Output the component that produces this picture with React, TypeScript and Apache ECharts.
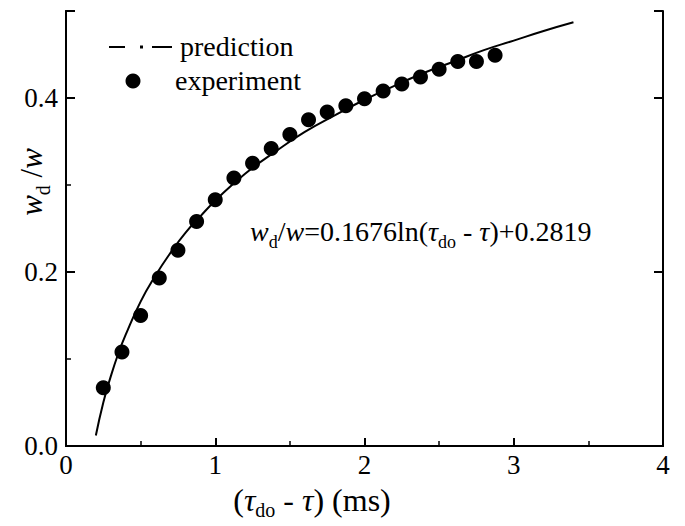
import React, { useEffect, useRef } from "react";
import * as echarts from "echarts";

const expX = [0.25, 0.375, 0.5, 0.625, 0.75, 0.875, 1.0, 1.125, 1.25, 1.375, 1.5, 1.625, 1.75, 1.875, 2.0, 2.125, 2.25, 2.375, 2.5, 2.625, 2.75, 2.875];
const expY = [0.067, 0.108, 0.15, 0.193, 0.225, 0.258, 0.283, 0.308, 0.325, 0.342, 0.358, 0.375, 0.384, 0.391, 0.399, 0.408, 0.416, 0.424, 0.433, 0.442, 0.442, 0.449];
const predX = [0.2, 0.25, 0.3, 0.35, 0.4, 0.5, 0.6, 0.7, 0.8, 0.9, 1.0, 1.2, 1.4, 1.6, 1.8, 2.0, 2.2, 2.4, 2.6, 2.8, 3.0, 3.2, 3.4];
const predY = [0.012, 0.05, 0.08, 0.106, 0.128, 0.166, 0.196, 0.222, 0.245, 0.264, 0.282, 0.313, 0.338, 0.361, 0.38, 0.398, 0.414, 0.429, 0.442, 0.455, 0.466, 0.477, 0.487];

const FONT = "'Liberation Serif', 'Times New Roman', serif";
const FS = 28;
const TICK_FS = 27;

export default function App() {
  const ref = useRef<HTMLDivElement>(null);
  useEffect(() => {
    if (!ref.current) return;
    const chart = echarts.init(ref.current, undefined, { renderer: "svg" });
    const axisLine = { show: true, lineStyle: { color: "#000", width: 2 } };
    const mk = (size: number, subSize: number, lh: number) => ({
      i: { fontStyle: "italic", fontSize: size, fontFamily: FONT, lineHeight: lh, color: "#000" },
      n: { fontSize: size, fontFamily: FONT, lineHeight: lh, color: "#000" },
      s: { fontSize: subSize, fontFamily: FONT, verticalAlign: "bottom", lineHeight: lh, color: "#000" },
    });
    chart.setOption({
      animation: false,
      grid: { left: 66, right: 22, top: 11, bottom: 80, containLabel: false },
      xAxis: [
        {
          type: "value", min: 0, max: 4, interval: 1, position: "bottom",
          axisLine, splitLine: { show: false },
          axisTick: { show: true, inside: true, length: 8, lineStyle: { color: "#000", width: 2 } },
          minorTick: { show: true, splitNumber: 2, length: 5, lineStyle: { color: "#000", width: 1.5 } },
          axisLabel: { color: "#000", fontSize: TICK_FS, fontFamily: FONT, margin: 5 },
        },
        {
          type: "value", min: 0, max: 4, position: "top",
          axisLine, splitLine: { show: false }, axisTick: { show: false }, axisLabel: { show: false },
        },
      ],
      yAxis: [
        {
          type: "value", min: 0, max: 0.5, interval: 0.2, position: "left",
          axisLine, splitLine: { show: false },
          axisTick: { show: true, inside: true, length: 9, lineStyle: { color: "#000", width: 2 } },
          axisLabel: {
            color: "#000", fontSize: TICK_FS, fontFamily: FONT, margin: 8,
            formatter: (v: number) => (Math.abs(v - 0.5) < 1e-6 ? "" : v.toFixed(1)),
          },
        },
        {
          type: "value", min: 0, max: 0.5, interval: 0.1, position: "left",
          axisLine, splitLine: { show: false },
          axisTick: { show: true, inside: true, length: 5, lineStyle: { color: "#000", width: 1.5 } },
          axisLabel: { show: false },
        },
        {
          type: "value", min: 0, max: 0.5, interval: 0.2, position: "right",
          axisLine, splitLine: { show: false },
          axisTick: { show: true, inside: true, length: 9, lineStyle: { color: "#000", width: 2 } },
          axisLabel: { show: false },
        },
      ],
      series: [
        {
          name: "prediction", type: "line", xAxisIndex: 0, yAxisIndex: 0,
          data: predX.map((x, i) => [x, predY[i]]),
          smooth: true, showSymbol: false, symbol: "none",
          lineStyle: { color: "#000", width: 2 },
        },
        {
          name: "experiment", type: "scatter", xAxisIndex: 0, yAxisIndex: 0,
          data: expX.map((x, i) => [x, expY[i]]),
          symbol: "circle", symbolSize: 15,
          itemStyle: { color: "#000", opacity: 1 },
        },
      ],
      graphic: [
        { type: "line", shape: { x1: 109, y1: 47, x2: 125, y2: 47 }, style: { stroke: "#000", lineWidth: 2 } },
        { type: "rect", shape: { x: 140, y: 45.5, width: 3, height: 3 }, style: { fill: "#000" } },
        { type: "line", shape: { x1: 152, y1: 47, x2: 172, y2: 47 }, style: { stroke: "#000", lineWidth: 2 } },
        { type: "text", x: 180, y: 46, style: { text: "prediction", fontSize: FS, fontFamily: FONT, fill: "#000", verticalAlign: "middle" } },
        { type: "circle", shape: { cx: 133, cy: 81, r: 7.5 }, style: { fill: "#000" } },
        { type: "text", x: 175, y: 80, style: { text: "experiment", fontSize: FS, fontFamily: FONT, fill: "#000", verticalAlign: "middle" } },
        {
          type: "text", x: 250, y: 231,
          style: {
            text: "{i|w}{s|d}{n|/}{i|w}{n|=0.1676ln(}{i|τ}{s|do}{n| - }{i|τ}{n|)+0.2819}",
            verticalAlign: "middle", fill: "#000",
            rich: mk(FS, 18, 40),
          },
        },
        {
          type: "text", x: 312, y: 500,
          style: {
            text: "{n|(}{i|τ}{s|do}{n| - }{i|τ}{n|) (ms)}",
            align: "center", verticalAlign: "middle", fill: "#000",
            rich: mk(32, 20, 40),
          },
        },
        {
          type: "text", x: 31, y: 182, rotation: Math.PI / 2,
          style: {
            text: "{i|w}{s|d}{n| /}{i|w}",
            align: "center", verticalAlign: "middle", fill: "#000",
            rich: mk(31, 20, 44),
          },
        },
      ],
    });
    return () => chart.dispose();
  }, []);
  return <div ref={ref} style={{ position: "absolute", left: 0, top: 0, width: 685, height: 526 }} />;
}
